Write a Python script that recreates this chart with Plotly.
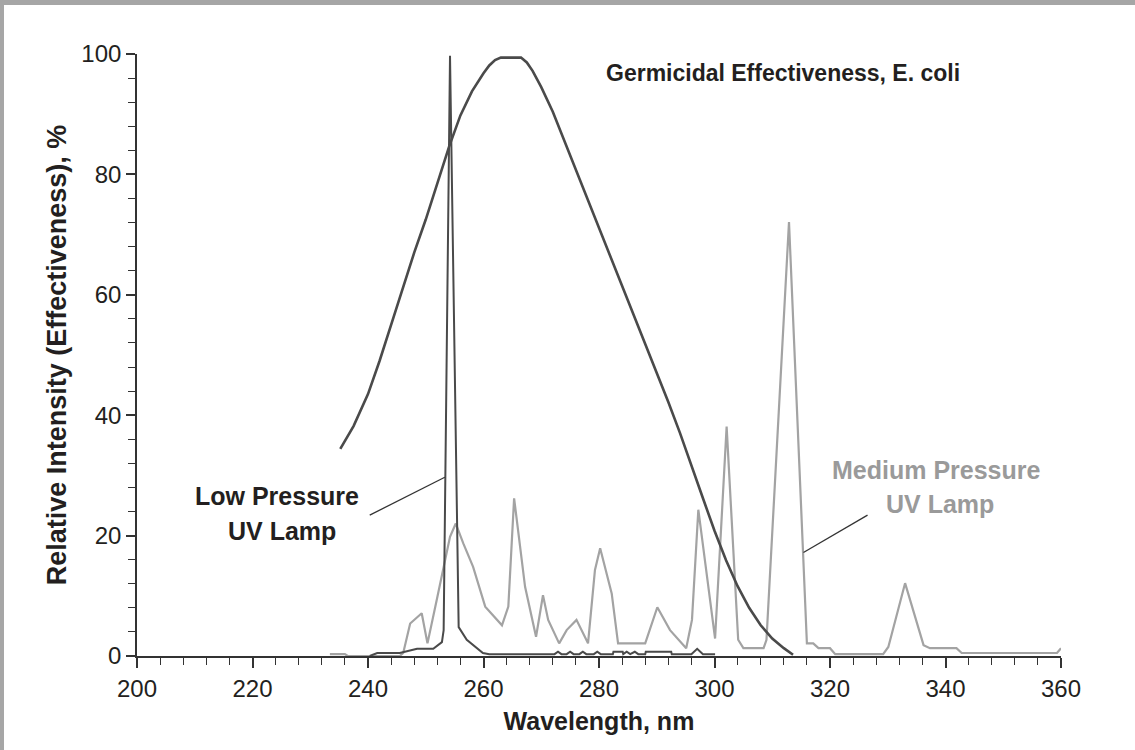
import plotly.graph_objects as go

# Germicidal effectiveness curve (E. coli)
germ_x = [235.2, 237.5, 240, 242, 244, 246, 248, 250, 252, 254, 256, 258, 260, 261, 262, 263,
          266.5, 267.5, 268.5, 270, 272, 274, 276, 278, 280, 282, 284, 286, 288, 290, 292, 294,
          296, 298, 300, 302, 304, 306, 308, 310, 312, 313.6]
germ_y = [34.4, 38.2, 43.5, 49, 55, 61, 67, 72.5, 78.5, 84.5, 89.8, 93.8, 96.8, 98.1, 99.0, 99.4,
          99.4, 98.6, 97.2, 94.5, 90.4, 85.6, 80.7, 75.8, 71, 66.3, 61.6, 56.9, 52.1, 47.2, 42.2, 37.1,
          31.8, 26.2, 20.8, 15.9, 11.6, 8.0, 5.1, 2.9, 1.3, 0.2]

# Low pressure UV lamp
lp_x = [240.3, 241.6, 245.5, 248.5, 251.3, 252.8, 253.1, 254.2, 255.7, 257.1, 259.9, 261,
        272.3, 272.9, 273.5, 274.4, 275.0, 275.6, 276.6, 277.2, 277.8, 279.1, 279.7, 280.3,
        282.4, 282.5, 284.1, 284.2, 284.8, 285.4, 286.2, 286.8, 288.0, 288.1, 292.5, 292.6,
        296.0, 297.0, 298.0, 300.1]
lp_y = [0, 0.5, 0.5, 1.2, 1.2, 2.3, 4.3, 99.7, 4.8, 2.7, 0.5, 0.3,
        0.3, 0.7, 0.3, 0.3, 0.7, 0.3, 0.3, 0.7, 0.3, 0.3, 0.7, 0.3,
        0.3, 0.7, 0.7, 0.3, 0.7, 0.3, 0.7, 0.3, 0.3, 0.7, 0.7, 0.3,
        0.3, 1.2, 0.3, 0.3]

# Medium pressure UV lamp
mp_x = [233.4, 236.0, 236.5, 245.5, 246.1, 247.3, 249.3, 250.3, 251.9, 252.8, 254.2, 255.2,
        256.5, 258.2, 260.3, 263.2, 264.3, 265.3, 267.2, 269.1, 270.3, 271.2, 273.1, 274.4,
        276.1, 278.1, 279.3, 280.2, 282.2, 283.3, 288.0, 290.1, 292.3, 295.1, 296.1, 297.2,
        300.1, 302.1, 304.1, 305.0, 308.5, 309.0, 312.9, 316.0, 317.1, 318.0, 320.0, 320.9,
        329.2, 330.1, 333.0, 336.2, 337.3, 341.9, 342.8, 359.3, 360.0]
mp_y = [0.3, 0.3, 0, 0, 0.5, 5.4, 7.1, 2.1, 9.3, 13.2, 19.8, 22.0,
        18.7, 14.8, 8.2, 5.1, 8.2, 26.2, 11.5, 3.2, 10.1, 6.0, 2.1, 4.3,
        6.0, 2.1, 14.3, 17.9, 10.4, 2.1, 2.1, 8.1, 4.3, 1.3, 6.0, 24.3,
        2.9, 38.1, 2.7, 1.3, 1.3, 2.7, 72.1, 2.1, 2.1, 1.3, 1.3, 0.3,
        0.3, 1.5, 12.1, 1.8, 1.3, 1.3, 0.5, 0.5, 1.3]

x_ticks = [200, 220, 240, 260, 280, 300, 320, 340, 360]
y_ticks = [0, 20, 40, 60, 80, 100]

FONT = "Liberation Sans, Arial, Helvetica, sans-serif"
DARK = "#4a4a4a"
GRAY = "#a3a3a3"
TXT = "#231f20"

fig = go.Figure()
fig.add_trace(go.Scatter(x=mp_x, y=mp_y, mode="lines", name="Medium Pressure UV Lamp",
                         line=dict(color=GRAY, width=2.2)))
fig.add_trace(go.Scatter(x=lp_x, y=lp_y, mode="lines", name="Low Pressure UV Lamp",
                         line=dict(color=DARK, width=2)))
fig.add_trace(go.Scatter(x=germ_x, y=germ_y, mode="lines", name="Germicidal Effectiveness, E. coli",
                         line=dict(color=DARK, width=2.6)))

# plot area geometry: x 137..1061, y 54..656
L, R, T, B = 137, 74, 54, 94
W = 1135 - L - R
H = 750 - T - B

def px(xp):
    return (xp - L) / W

def py(yp):
    return (750 - B - yp) / H

shapes = [
    # grey frame top and left
    dict(type="rect", xref="paper", yref="paper", x0=px(0), x1=px(1135), y0=py(5), y1=py(0),
         fillcolor="#a6a6a6", line=dict(width=0), layer="above"),
    dict(type="rect", xref="paper", yref="paper", x0=px(0), x1=px(4), y0=py(750), y1=py(0),
         fillcolor="#a6a6a6", line=dict(width=0), layer="above"),
    # leader lines
    dict(type="line", xref="x", yref="y", x0=240.3, y0=23.4, x1=253.3, y1=29.7,
         line=dict(color="#333333", width=1.3)),
    dict(type="line", xref="x", yref="y", x0=315.4, y0=17.2, x1=326.5, y1=23.4,
         line=dict(color="#333333", width=1.3)),
]

annotations = [
    dict(x=311.9, y=96.8, text="Germicidal Effectiveness, E. coli", showarrow=False,
         font=dict(family=FONT, size=23, color=TXT, weight="bold"), xanchor="center", yanchor="middle"),
    dict(x=224.3, y=26.6, text="Low Pressure", showarrow=False,
         font=dict(family=FONT, size=25, color=TXT, weight="bold"), xanchor="center", yanchor="middle"),
    dict(x=225.1, y=20.8, text="UV Lamp", showarrow=False,
         font=dict(family=FONT, size=25, color=TXT, weight="bold"), xanchor="center", yanchor="middle"),
    dict(x=338.5, y=30.9, text="Medium Pressure", showarrow=False,
         font=dict(family=FONT, size=25, color="#9a9a9a", weight="bold"), xanchor="center", yanchor="middle"),
    dict(x=339.0, y=25.2, text="UV Lamp", showarrow=False,
         font=dict(family=FONT, size=25, color="#9a9a9a", weight="bold"), xanchor="center", yanchor="middle"),
]

fig.update_layout(
    width=1135, height=750,
    margin=dict(l=L, r=R, t=T, b=B, autoexpand=False),
    paper_bgcolor="white", plot_bgcolor="white",
    showlegend=False,
    shapes=shapes, annotations=annotations,
    font=dict(family=FONT, color=TXT),
)
fig.update_xaxes(
    range=[200, 360], tickvals=x_ticks, ticktext=[str(v) for v in x_ticks],
    showgrid=False, zeroline=False, showline=True, linecolor="#333333", linewidth=1.6,
    ticks="outside", ticklen=10, tickwidth=1.5, tickcolor="#333333",
    tickfont=dict(family=FONT, size=24, color=TXT),
    minor=dict(dtick=4, tick0=200, ticks="outside", ticklen=7, tickwidth=1.3, tickcolor="#333333", showgrid=False),
    title=dict(text="Wavelength, nm", font=dict(family=FONT, size=25, color=TXT, weight="bold"), standoff=12),
    automargin=False,
)
fig.update_yaxes(
    range=[0, 100], tickvals=y_ticks, ticktext=[str(v) for v in y_ticks],
    showgrid=False, zeroline=False, showline=True, linecolor="#333333", linewidth=1.6,
    ticks="outside", ticklen=9, tickwidth=1.5, tickcolor="#333333",
    tickfont=dict(family=FONT, size=24, color=TXT),
    minor=dict(dtick=4, tick0=0, ticks="outside", ticklen=7, tickwidth=1.3, tickcolor="#333333", showgrid=False),
    title=dict(text="Relative Intensity (Effectiveness), %", font=dict(family=FONT, size=27, color=TXT, weight="bold"), standoff=7),
    automargin=False,
)

fig.write_html("out.html")
